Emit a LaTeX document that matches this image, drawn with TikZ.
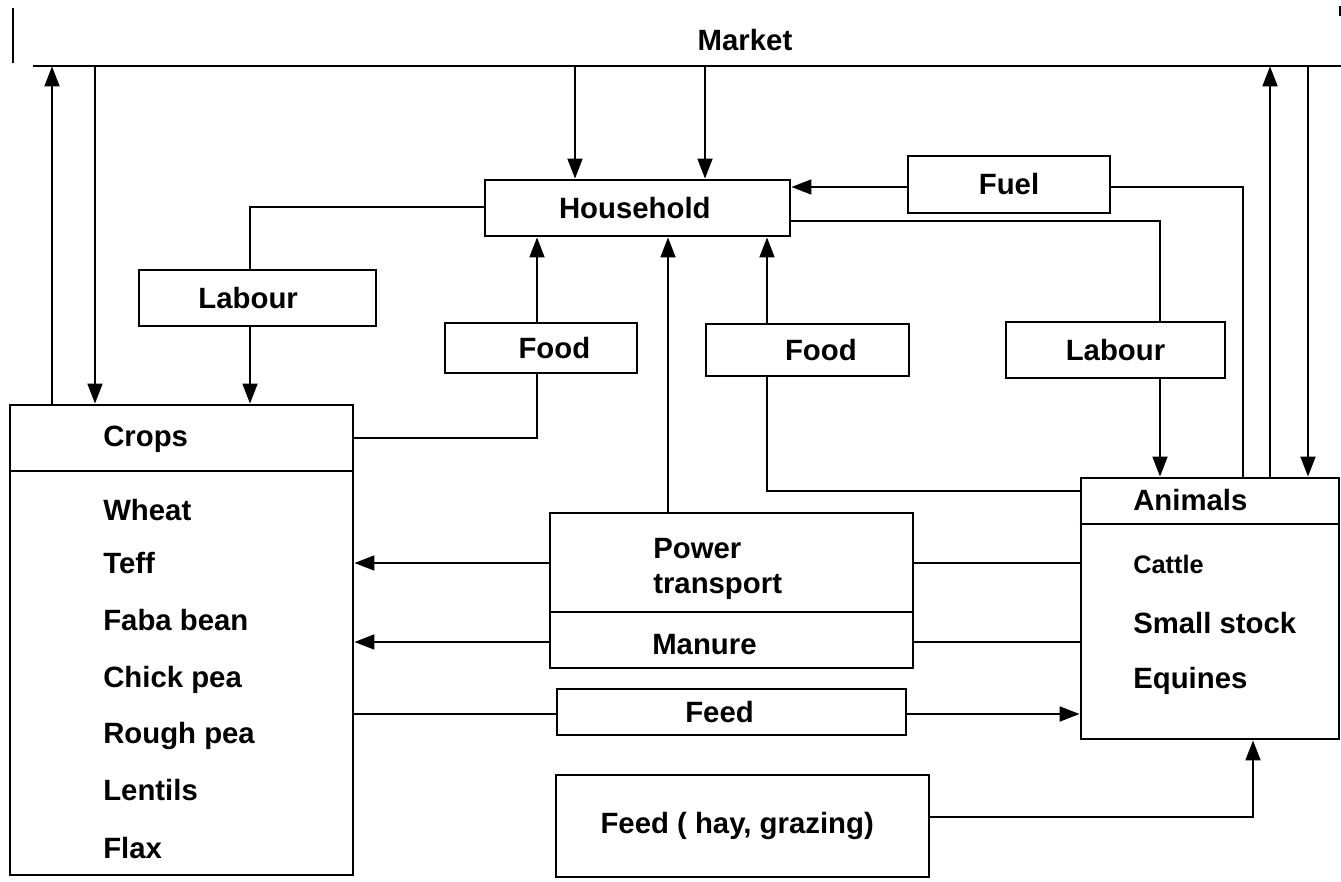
\documentclass[tikz,border=0pt]{standalone}
\usepackage{fontspec}
\setmainfont{Liberation Sans}
\usetikzlibrary{fit,arrows.meta}
\newcommand\dgfont{\bfseries\fontsize{22}{28}\selectfont}
\newcommand\dgsmall{\bfseries\fontsize{19}{24}\selectfont}
\begin{document}
\begin{tikzpicture}[x=0.75pt,y=-0.75pt,
  box/.style={draw,line width=2pt,inner sep=0pt},
  txt/.style={inner sep=0pt,font=\dgfont,anchor=base west},
  boxtext/.style={label={[font=\dgfont,inner sep=0pt]center:#1}},
  boxtextsh/.style 2 args={label={[font=\dgfont,inner sep=0pt,shift={(#1,0)}]center:#2}},
  ln/.style={line width=2pt},
  arr/.style={line width=2pt,-{Triangle[length=15pt,width=11pt]}}]
\useasboundingbox (0,0) rectangle (1341,881);
% columns and rows
\foreach \n/\v in {cA/52,cB/95,cC/575,cD/705,cE/1270,cF/1308,cG/250,cH/537,cI/668,cJ/767,cK/1160,cL/1243,cM/1253}
  {\coordinate (\n) at (\v,0);}
\foreach \n/\v in {r187/187,r207/207,r221/221,r438/438,r471/471,r491/491,r524/524,r563/563,r612/612,r642/642,r714/714,r817/817}
  {\coordinate (\n) at (0,\v);}
% Market bar
\node[inner sep=0pt,fit={(13,14)(1341,66)},boxtextsh={51pt}{Market}] (mkt) {};
\draw[ln] (13,8) -- (13,63);
\draw[ln] (33,66) -- (1341,66);
\draw[line width=1pt] (1340,6) -- (1340,16);
% boxes
\node[box,fit={(485,180)(790,236)},boxtextsh={-2pt}{Household}] (hh) {};
\node[box,fit={(908,156)(1110,213)},boxtext={Fuel}] (fuel) {};
\node[box,fit={(139,270)(376,326)},boxtextsh={-7pt}{Labour}] (labL) {};
\node[box,fit={(1006,322)(1225,378)},boxtext={Labour}] (labR) {};
\node[box,fit={(445,323)(637,373)},boxtextsh={10pt}{Food}] (foodL) {};
\node[box,fit={(706,324)(909,376)},boxtextsh={10pt}{Food}] (foodR) {};
\node[box,fit={(10,405)(353,875)}] (crops) {};
\node[box,fit={(1081,478)(1339,739)}] (anim) {};
\node[box,fit={(550,513)(913,668)}] (pow) {};
\node[box,fit={(557,689)(906,735)},boxtextsh={-9pt}{Feed}] (feed) {};
\node[box,fit={(556,775)(929,877)},boxtextsh={-4pt}{Feed ( hay, grazing)}] (hay) {};
% dividers
\draw[ln] (crops.west |- r471) -- (crops.east |- r471);
\draw[ln] (anim.west |- r524) -- (anim.east |- r524);
\draw[ln] (pow.west |- r612) -- (pow.east |- r612);
% texts in compartment boxes
\node[txt] (tcrops) at (103,446) {Crops};
\node[txt] (twheat) at (103,520) {Wheat};
\node[txt] (tteff) at (103,573) {Teff};
\node[txt] (tfaba) at (103,630) {Faba bean};
\node[txt] (tchick) at (103,687) {Chick pea};
\node[txt] (trough) at (103,743) {Rough pea};
\node[txt] (tlent) at (103,800) {Lentils};
\node[txt] (tflax) at (103,858) {Flax};
\node[txt] (tanim) at (1133,510) {Animals};
\node[txt,font=\dgsmall] (tcattle) at (1133,573) {Cattle};
\node[txt] (tsmall) at (1133,633) {Small stock};
\node[txt] (tequ) at (1133,688) {Equines};
\node[txt] (tpow) at (653,558) {Power};
\node[txt] (ttrans) at (653,593) {transport};
\node[txt] (tman) at (652,654) {Manure};
% market links
\draw[arr] (crops.north -| cA) -- (mkt.south -| cA);
\draw[arr] (mkt.south -| cB) -- (crops.north -| cB);
\draw[arr] (mkt.south -| cC) -- (hh.north -| cC);
\draw[arr] (mkt.south -| cD) -- (hh.north -| cD);
\draw[arr] (anim.north -| cE) -- (mkt.south -| cE);
\draw[arr] (mkt.south -| cF) -- (anim.north -| cF);
% fuel
\draw[arr] (fuel.west |- r187) -- (hh.east |- r187);
\draw[ln] (anim.north -| cL) |- (fuel.east |- r187);
% labour
\draw[ln] (hh.east |- r221) -| (labR.north -| cK);
\draw[arr] (labR.south -| cK) -- (anim.north -| cK);
\draw[ln] (hh.west |- r207) -| (labL.north -| cG);
\draw[arr] (labL.south -| cG) -- (crops.north -| cG);
% food
\draw[ln] (crops.east |- r438) -| (foodL.south -| cH);
\draw[arr] (foodL.north -| cH) -- (hh.south -| cH);
\draw[arr] (pow.north -| cI) -- (hh.south -| cI);
\draw[arr] (foodR.north -| cJ) -- (hh.south -| cJ);
\draw[ln] (anim.west |- r491) -| (foodR.south -| cJ);
% power, manure
\draw[ln] (anim.west |- r563) -- (pow.east |- r563);
\draw[arr] (pow.west |- r563) -- (crops.east |- r563);
\draw[ln] (anim.west |- r642) -- (pow.east |- r642);
\draw[arr] (pow.west |- r642) -- (crops.east |- r642);
% feed
\draw[ln] (crops.east |- r714) -- (feed.west |- r714);
\draw[arr] (feed.east |- r714) -- (anim.west |- r714);
\draw[arr] (hay.east |- r817) -| (anim.south -| cM);
\end{tikzpicture}
\end{document}
